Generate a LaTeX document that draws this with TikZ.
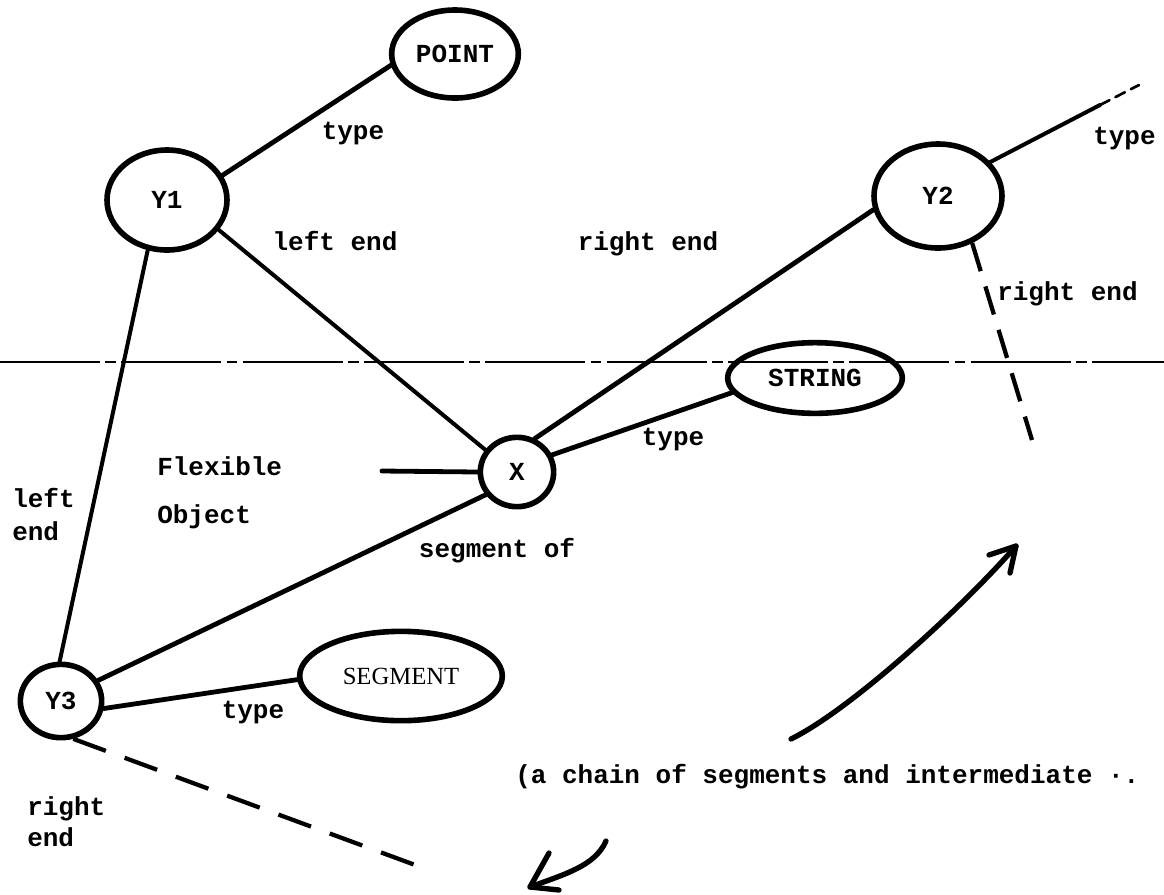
\documentclass[tikz,border=0pt]{standalone}
\usepackage{fontspec}
\setmonofont{Liberation Mono}
\newfontfamily\nodeserif{Liberation Serif}
\usetikzlibrary{shapes.geometric}
\newcommand\twfont{\ttfamily\bfseries\fontsize{19.5}{24}\selectfont}
\newcommand\segfont{\nodeserif\fontsize{18.5}{20}\selectfont}

\tikzset{
  obj/.style={ellipse, draw, line width=4.2pt, inner sep=0pt, font=\twfont},
  link/.style={line width=3.6pt, line cap=round},
  thinlink/.style={line width=3pt, line cap=round},
  dashlink/.style={line width=3.2pt, dash pattern=on 26pt off 15pt},
  pen/.style={line width=4pt, line cap=round, line join=round},
  lbl/.style={font=\twfont, inner sep=0pt, anchor=mid},
  lblw/.style={font=\twfont, inner sep=0pt, anchor=mid west},
  fold/.style={line width=1.5pt, dash pattern=on 75pt off 4pt on 8pt off 4pt}
}

\begin{document}
\begin{tikzpicture}[x=0.75pt, y=-0.75pt]
\useasboundingbox (0,0) rectangle (1164,894);
\fill[white] (0,0) rectangle (1164,894);

% fold line running across the sheet
\coordinate (fold0) at (0,362);
\coordinate (fold1) at (1164,362);
\draw[fold] (fold0) -- (fold1);

% objects
\node[obj, minimum width=95pt, minimum height=66pt] (point) at (455,54) {POINT};
\node[obj, minimum width=90pt, minimum height=75pt] (y1) at (167,200) {Y1};
\node[obj, minimum width=96pt, minimum height=78pt] (y2) at (938,196) {Y2};
\node[obj, minimum width=55pt, minimum height=52pt] (x) at (517,472) {X};
\node[obj, minimum width=131pt, minimum height=53pt] (string) at (815,378) {STRING};
\node[obj, minimum width=61pt, minimum height=55pt] (y3) at (61,701) {Y3};
\node[obj, minimum width=152pt, minimum height=67pt, font=\segfont] (segment) at (401,676) {SEGMENT};

% relations
\draw[link] (y1.24) -- (point.190);
\draw[thinlink] (y1.-30) -- (x.145);
\draw[thinlink] (y1.-111) -- (y3.92);
\draw[link] (y2.192) -- (x.62);
\draw[link] (x.26) -- (string.190);
\draw[link] (x.216) -- (y3.29);
\coordinate (flexend) at (382,471);
\draw[link] (flexend) -- (x.180);
\draw[link] (y3.-10) -- (segment.182);

\coordinate (y3tail) at (426,869);
\draw[dashlink] (y3.-72) -- (y3tail);
\coordinate (y2tail) at (1032,440);
\draw[dashlink, dash pattern=on 22pt off 12pt] (y2.-54) -- (y2tail);
\coordinate (y2mid) at (1100,105);
\coordinate (y2type) at (1139,85);
\draw[thinlink] (y2.33) -- (y2mid);
\draw[thinlink, line width=2pt, dash pattern=on 8pt off 5pt] (y2mid) -- (y2type);

% arrows of the sketch
\coordinate (ua0) at (791,739);
\coordinate (ua1) at (1016,546);
\coordinate (uab1) at (989,555);
\coordinate (uab2) at (1010,573);
\draw[pen] (ua0) .. controls (850,710) and (960,610) .. (ua1);
\draw[pen] (uab1) -- (ua1) -- (uab2);

\coordinate (da0) at (606,841);
\coordinate (da1) at (530,887);
\coordinate (dab1) at (549,853);
\coordinate (dab2) at (559,890);
\draw[pen] (da0) .. controls (595,866) and (565,874) .. (da1);
\draw[pen] (dab1) -- (da1) -- (dab2);

% labels
\node[lbl] (ltype1) at (353,137) {type};
\node[lbl] (lleft1) at (335,248) {left end};
\node[lbl] (lright1) at (648,248) {right end};
\node[lblw] (ltype2) at (1093,142) {type};
\node[lblw] (lright2) at (997,298) {right end};
\node[lblw] (lflex) at (157,473) {Flexible};
\node[lblw] (lobj) at (157,521) {Object};
\node[lblw] (lleft2a) at (12,505) {left};
\node[lblw] (lleft2b) at (12,538) {end};
\node[lbl] (lsegof) at (497,555) {segment of};
\node[lbl] (ltype3) at (673,443) {type};
\node[lbl] (ltype4) at (253,716) {type};
\node[lblw] (lright3a) at (27,813) {right};
\node[lblw] (lright3b) at (27,844) {end};
\node[lblw] (lchain) at (515,781) {(a chain of segments and intermediate ·.};
\end{tikzpicture}
\end{document}
